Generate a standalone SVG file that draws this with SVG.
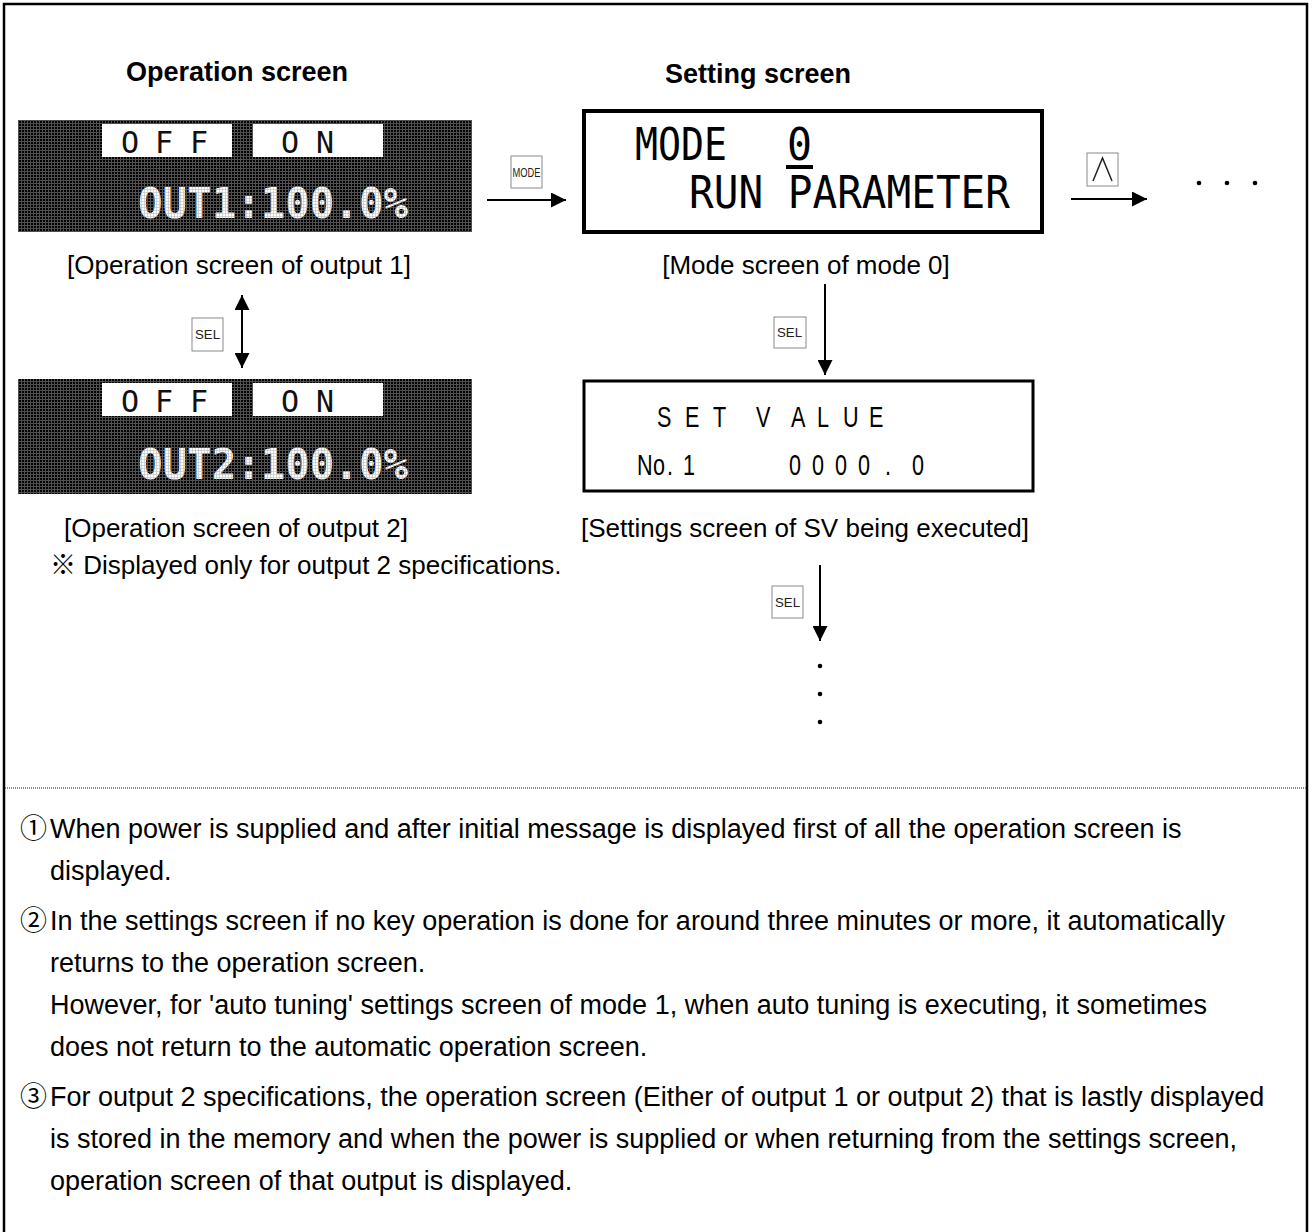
<svg xmlns="http://www.w3.org/2000/svg" width="1312" height="1232" viewBox="0 0 1312 1232">
<style>
  .title{font-family:"Liberation Sans",Arial,sans-serif;font-weight:bold;font-size:27px;fill:#000}
  .lbl{font-family:"Liberation Sans","Noto Sans CJK JP",sans-serif;font-size:26px;fill:#000}
  .body{font-family:"Liberation Sans","Noto Sans CJK JP",sans-serif;font-size:27px;fill:#000}
  .lcdbox{fill:#fff}
  .lcdsm{font-family:"DejaVu Sans Mono",monospace;font-size:30px;fill:#111}
  .lcdbig{font-family:"DejaVu Sans Mono",monospace;font-weight:bold;font-size:42px;fill:url(#wpix)}
  .seg{font-family:"DejaVu Sans Mono",monospace;font-size:44px;fill:#000}
  .narrow{font-family:"Liberation Sans",Arial,sans-serif;font-size:30px;fill:#000}
  .key{fill:#fff;stroke:#8a8a8a;stroke-width:1}
  .keyt{font-family:"Liberation Sans",Arial,sans-serif;font-size:12px;fill:#222}
  .conn{stroke:#000;stroke-width:2;fill:none}
</style>
<defs>
  <pattern id="lcdgrid" width="3" height="3" patternUnits="userSpaceOnUse">
    <rect width="3" height="3" fill="#000"/>
    <rect width="3" height="1" fill="#505050"/>
    <rect width="1" height="3" fill="#505050"/>
  </pattern>
  <pattern id="wpix" width="3" height="3" patternUnits="userSpaceOnUse">
    <rect width="3" height="3" fill="#fff"/>
    <rect width="3" height="0.6" fill="#bdbdbd"/>
    <rect width="0.6" height="3" fill="#bdbdbd"/>
  </pattern>
  <marker id="ah" markerWidth="15" markerHeight="15" refX="15" refY="7.5" orient="auto-start-reverse" markerUnits="userSpaceOnUse">
    <path d="M0,0 L15,7.5 L0,15 z" fill="#000"/>
  </marker>
</defs>

<rect x="4" y="4" width="1303" height="1240" fill="#fff" stroke="#000" stroke-width="2.5"/>
<line x1="5" y1="788" x2="1306" y2="788" stroke="#666" stroke-width="1.5" stroke-dasharray="1 1"/>

<text class="title" x="237" y="81" text-anchor="middle">Operation screen</text>
<text class="title" x="758" y="83" text-anchor="middle">Setting screen</text>

<g id="node-lcd1">
  <rect x="18" y="120" width="454" height="112" fill="url(#lcdgrid)"/>
  <rect class="lcdbox" x="102" y="124" width="130" height="33"/>
  <rect class="lcdbox" x="253" y="124" width="130" height="33"/>
  <text class="lcdsm" x="121 142 155 177 190" y="153">O F F</text>
  <text class="lcdsm" x="281 299 316 331" y="153">O  N</text>
  <text class="lcdbig" x="138" y="218" textLength="270" lengthAdjust="spacingAndGlyphs">OUT1:100.0%</text>
  <text class="lbl" x="239" y="274" text-anchor="middle">[Operation screen of output 1]</text>
</g>

<g id="node-lcd2">
  <rect x="18" y="379" width="454" height="115" fill="url(#lcdgrid)"/>
  <rect class="lcdbox" x="102" y="383" width="130" height="33"/>
  <rect class="lcdbox" x="253" y="383" width="130" height="33"/>
  <text class="lcdsm" x="121 142 155 177 190" y="412">O F F</text>
  <text class="lcdsm" x="281 299 316 331" y="412">O  N</text>
  <text class="lcdbig" x="138" y="479" textLength="270" lengthAdjust="spacingAndGlyphs">OUT2:100.0%</text>
  <text class="lbl" x="236" y="537" text-anchor="middle">[Operation screen of output 2]</text>
  <text class="lbl" x="50" y="574">※ Displayed only for output 2 specifications.</text>
</g>

<g id="node-mode">
  <rect x="584" y="111" width="458" height="121" fill="none" stroke="#000" stroke-width="4"/>
  <text class="seg" x="635" y="160" textLength="92" lengthAdjust="spacingAndGlyphs">MODE</text>
  <text class="seg" x="787" y="160" textLength="25" lengthAdjust="spacingAndGlyphs">0</text>
  <rect x="786" y="165" width="27" height="4" fill="#000"/>
  <text class="seg" x="689" y="208" textLength="321" lengthAdjust="spacingAndGlyphs">RUN PARAMETER</text>
  <text class="lbl" x="806" y="274" text-anchor="middle">[Mode screen of mode 0]</text>
</g>

<g id="node-setvalue">
  <rect x="584" y="381" width="449" height="110" fill="none" stroke="#000" stroke-width="3"/>
  <text class="narrow" transform="scale(0.72 1)" x="912.5 932 951.4 970 990.3 1020 1050 1080 1098.6 1120 1134.7 1155 1170.8 1190 1206.9 1225 1243.1" y="427">S E T   V A L U E</text>
  <text class="narrow" transform="scale(0.72 1)" x="884.7 906.9 926.4 935 948.6" y="475">No. 1</text>
  <text class="narrow" transform="scale(0.72 1)" x="1095.8 1112 1127.8 1144 1159.7 1176 1191.7 1210 1229.2 1245 1266.7" y="475">0 0 0 0 . 0</text>
  <text class="lbl" x="805" y="537" text-anchor="middle">[Settings screen of SV being executed]</text>
</g>

<g id="connectors">
  <line class="conn" x1="487" y1="200" x2="566" y2="200" marker-end="url(#ah)"/>
  <line class="conn" x1="1071" y1="199" x2="1147" y2="199" marker-end="url(#ah)"/>
  <line class="conn" x1="242" y1="295" x2="242" y2="368" marker-start="url(#ah)" marker-end="url(#ah)"/>
  <line class="conn" x1="825" y1="284" x2="825" y2="375" marker-end="url(#ah)"/>
  <line class="conn" x1="820" y1="565" x2="820" y2="641" marker-end="url(#ah)"/>
  <g id="key-mode">
    <rect class="key" x="511" y="156" width="31" height="32"/>
    <text class="keyt" x="512.5" y="176.5" textLength="28" lengthAdjust="spacingAndGlyphs">MODE</text>
  </g>
  <g id="key-up">
    <rect class="key" x="1087" y="153" width="31" height="33"/>
    <polyline points="1093,181 1102.5,158 1112,181" fill="none" stroke="#222" stroke-width="1.5"/>
  </g>
  <g id="key-sel1">
    <rect class="key" x="192" y="318" width="31" height="33"/>
    <text class="keyt" x="195" y="339" textLength="25" lengthAdjust="spacingAndGlyphs">SEL</text>
  </g>
  <g id="key-sel2">
    <rect class="key" x="774" y="317" width="32" height="31"/>
    <text class="keyt" x="777" y="337" textLength="25" lengthAdjust="spacingAndGlyphs">SEL</text>
  </g>
  <g id="key-sel3">
    <rect class="key" x="772" y="586" width="31" height="32"/>
    <text class="keyt" x="775" y="607" textLength="25" lengthAdjust="spacingAndGlyphs">SEL</text>
  </g>
  <circle cx="1199" cy="183" r="2.3"/>
  <circle cx="1227" cy="183" r="2.3"/>
  <circle cx="1255" cy="183" r="2.3"/>
  <circle cx="820" cy="666" r="2.3"/>
  <circle cx="820" cy="694" r="2.3"/>
  <circle cx="820" cy="722" r="2.3"/>
</g>

<g id="notes">
  <text class="body" y="838"><tspan x="20">①</tspan><tspan x="50">When power is supplied and after initial message is displayed first of all the operation screen is</tspan></text>
  <text class="body" x="50" y="880">displayed.</text>
  <text class="body" y="930"><tspan x="20">②</tspan><tspan x="50">In the settings screen if no key operation is done for around three minutes or more, it automatically</tspan></text>
  <text class="body" x="50" y="972">returns to the operation screen.</text>
  <text class="body" x="50" y="1014">However, for 'auto tuning' settings screen of mode 1, when auto tuning is executing, it sometimes</text>
  <text class="body" x="50" y="1056">does not return to the automatic operation screen.</text>
  <text class="body" y="1106"><tspan x="20">③</tspan><tspan x="50">For output 2 specifications, the operation screen (Either of output 1 or output 2) that is lastly displayed</tspan></text>
  <text class="body" x="50" y="1148">is stored in the memory and when the power is supplied or when returning from the settings screen,</text>
  <text class="body" x="50" y="1190">operation screen of that output is displayed.</text>
</g>
</svg>
